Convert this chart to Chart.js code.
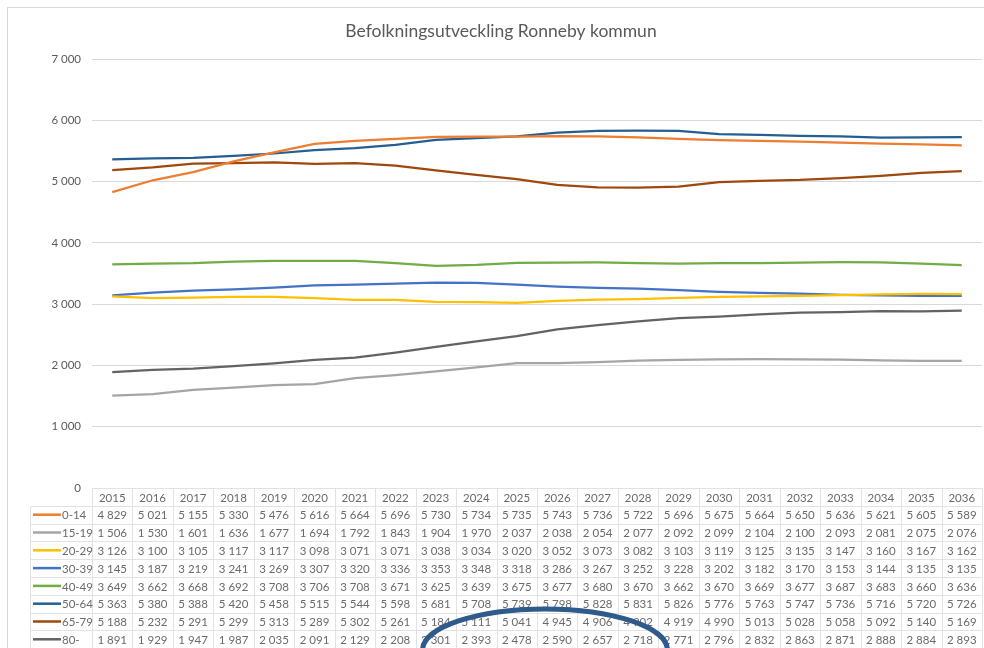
<!DOCTYPE html>
<html>
<head>
<meta charset="utf-8">
<script src="https://cdn.jsdelivr.net/npm/chart.js@4/dist/chart.umd.min.js"></script>
<style>
  html, body { margin: 0; padding: 0; background: #fff; }
  #wrap { width: 984px; height: 648px; position: relative; }
</style>
</head>
<body>
<div id="wrap"><canvas id="popChart" width="984" height="648"></canvas></div>
<script>
// data
const years = ['2015', '2016', '2017', '2018', '2019', '2020', '2021', '2022', '2023', '2024', '2025',
    '2026', '2027', '2028', '2029', '2030', '2031', '2032', '2033', '2034', '2035', '2036'];

const age0_14 = [4829, 5021, 5155, 5330, 5476, 5616, 5664, 5696, 5730, 5734, 5735, 5743, 5736, 5722, 5696, 5675, 5664, 5650, 5636, 5621, 5605, 5589];
const age15_19 = [1506, 1530, 1601, 1636, 1677, 1694, 1792, 1843, 1904, 1970, 2037, 2038, 2054, 2077, 2092, 2099, 2104, 2100, 2093, 2081, 2075, 2076];
const age20_29 = [3126, 3100, 3105, 3117, 3117, 3098, 3071, 3071, 3038, 3034, 3020, 3052, 3073, 3082, 3103, 3119, 3125, 3135, 3147, 3160, 3167, 3162];
const age30_39 = [3145, 3187, 3219, 3241, 3269, 3307, 3320, 3336, 3353, 3348, 3318, 3286, 3267, 3252, 3228, 3202, 3182, 3170, 3153, 3144, 3135, 3135];
const age40_49 = [3649, 3662, 3668, 3692, 3708, 3706, 3708, 3671, 3625, 3639, 3675, 3677, 3680, 3670, 3662, 3670, 3669, 3677, 3687, 3683, 3660, 3636];
const age50_64 = [5363, 5380, 5388, 5420, 5458, 5515, 5544, 5598, 5681, 5708, 5739, 5798, 5828, 5831, 5826, 5776, 5763, 5747, 5736, 5716, 5720, 5726];
const age65_79 = [5188, 5232, 5291, 5299, 5313, 5289, 5302, 5261, 5184, 5111, 5041, 4945, 4906, 4902, 4919, 4990, 5013, 5028, 5058, 5092, 5140, 5169];
const age80 = [1891, 1929, 1947, 1987, 2035, 2091, 2129, 2208, 2301, 2393, 2478, 2590, 2657, 2718, 2771, 2796, 2832, 2863, 2871, 2888, 2884, 2893];

const seriesNames = ['0-14', '15-19', '20-29', '30-39', '40-49', '50-64', '65-79', '80-'];
const seriesValues = [age0_14, age15_19, age20_29, age30_39, age40_49, age50_64, age65_79, age80];
const seriesColors = ['#ED7D31', '#A5A5A5', '#FFC000', '#4472C4', '#70AD47', '#255E91', '#9E480E', '#636363'];

const yTicks = [0, 1000, 2000, 3000, 4000, 5000, 6000, 7000];

const FONT = 'Lato, "Open Sans", sans-serif';
const TEXT_COL = '#595959';
const GRID_COL = '#D9D9D9';

const fmt = n => String(n).replace(/\B(?=(\d{3})+(?!\d))/g, ' ');

// frame around the whole chart object
const framePlugin = {
    id: 'frame',
    beforeDraw(chart) {
        const c = chart.ctx;
        c.save();
        c.strokeStyle = '#D9D9D9';
        c.lineWidth = 1;
        c.strokeRect(7.5, 7.5, chart.width + 10, chart.height + 10);
        c.restore();
    }
};

// Excel style data table under the plot, columns follow the x scale
const dataTablePlugin = {
    id: 'dataTable',
    afterDraw(chart) {
        const c = chart.ctx;
        const xs = chart.scales.x;
        const area = chart.chartArea;
        const band = (area.right - area.left) / years.length;
        const rowH = 17.8;
        const top = area.bottom;
        const keyLeft = 30.5;
        const nRows = seriesNames.length;

        c.save();
        c.strokeStyle = '#E2E2E2';
        c.lineWidth = 1;
        c.beginPath();
        // header top
        c.moveTo(area.left, Math.round(top) + 0.5);
        c.lineTo(area.right, Math.round(top) + 0.5);
        for (let r = 1; r <= nRows + 1; r++) {
            const y = Math.round(top + r * rowH) + 0.5;
            c.moveTo(keyLeft, y);
            c.lineTo(area.right, y);
        }
        const bottom = top + (nRows + 1) * rowH;
        c.moveTo(keyLeft, Math.round(top + rowH) + 0.5);
        c.lineTo(keyLeft, bottom);
        for (let i = 0; i <= years.length; i++) {
            const x = Math.round(xs.getPixelForValue(i) - band / 2) + 0.5;
            c.moveTo(x, top);
            c.lineTo(x, bottom);
        }
        c.stroke();

        c.font = '11.5px ' + FONT;
        c.fillStyle = '#6A6A6A';
        c.textAlign = 'center';
        c.textBaseline = 'middle';
        years.forEach((yr, i) => {
            c.fillText(yr, xs.getPixelForValue(i), top + rowH / 2 + 1);
        });

        seriesValues.forEach((vals, r) => {
            const cy = top + (r + 1.5) * rowH + 1;
            c.strokeStyle = seriesColors[r];
            c.lineWidth = 2.5;
            c.beginPath();
            c.moveTo(33, cy - 1);
            c.lineTo(61, cy - 1);
            c.stroke();
            c.textAlign = 'left';
            c.fillStyle = '#6A6A6A';
            c.fillText(seriesNames[r], 62, cy);
            c.textAlign = 'center';
            vals.forEach((v, i) => {
                c.fillText(fmt(v), xs.getPixelForValue(i), cy);
            });
        });

        // hand drawn ring marking the 80- years 2023-2028
        const x0 = xs.getPixelForValue(8) - band / 2;
        const x1 = xs.getPixelForValue(13) + band / 2;
        const ringY = top + (nRows + 1.1) * rowH;
        c.strokeStyle = '#2F5A8C';
        c.lineWidth = 5;
        c.beginPath();
        c.ellipse((x0 + x1) / 2 + 8, ringY, (x1 - x0) / 2 + 1, 41, 0, 0, Math.PI * 2);
        c.stroke();
        c.restore();
    }
};

const ctx = document.getElementById('popChart').getContext('2d');

const popChart = new Chart(ctx, {
    type: 'line',
    data: {
        labels: years,
        datasets: seriesNames.map((name, i) => ({
            label: name,
            data: seriesValues[i],
            borderColor: seriesColors[i],
            backgroundColor: seriesColors[i],
            borderWidth: 2.25,
            pointRadius: 0,
            tension: 0,
            fill: false
        }))
    },
    options: {
        responsive: false,
        animation: false,
        layout: {
            padding: { left: 20, right: 2, top: 0, bottom: 160 }
        },
        plugins: {
            legend: { display: false },
            tooltip: { enabled: false },
            title: {
                display: true,
                text: 'Befolkningsutveckling Ronneby kommun',
                color: TEXT_COL,
                font: { family: FONT, size: 17.5, weight: 'normal' },
                padding: { top: 21, bottom: 17 }
            }
        },
        scales: {
            x: {
                display: false,
                offset: true
            },
            y: {
                min: 0,
                max: 7000,
                afterBuildTicks(scale) {
                    scale.ticks = yTicks.map(v => ({ value: v }));
                },
                afterFit(scale) {
                    scale.width = 72;
                },
                border: { display: false },
                grid: {
                    color: GRID_COL,
                    lineWidth: 1,
                    drawTicks: false
                },
                ticks: {
                    color: TEXT_COL,
                    padding: 11,
                    font: { family: FONT, size: 11.5 },
                    callback: v => fmt(v)
                }
            }
        }
    },
    plugins: [framePlugin, dataTablePlugin]
});
</script>
</body>
</html>
